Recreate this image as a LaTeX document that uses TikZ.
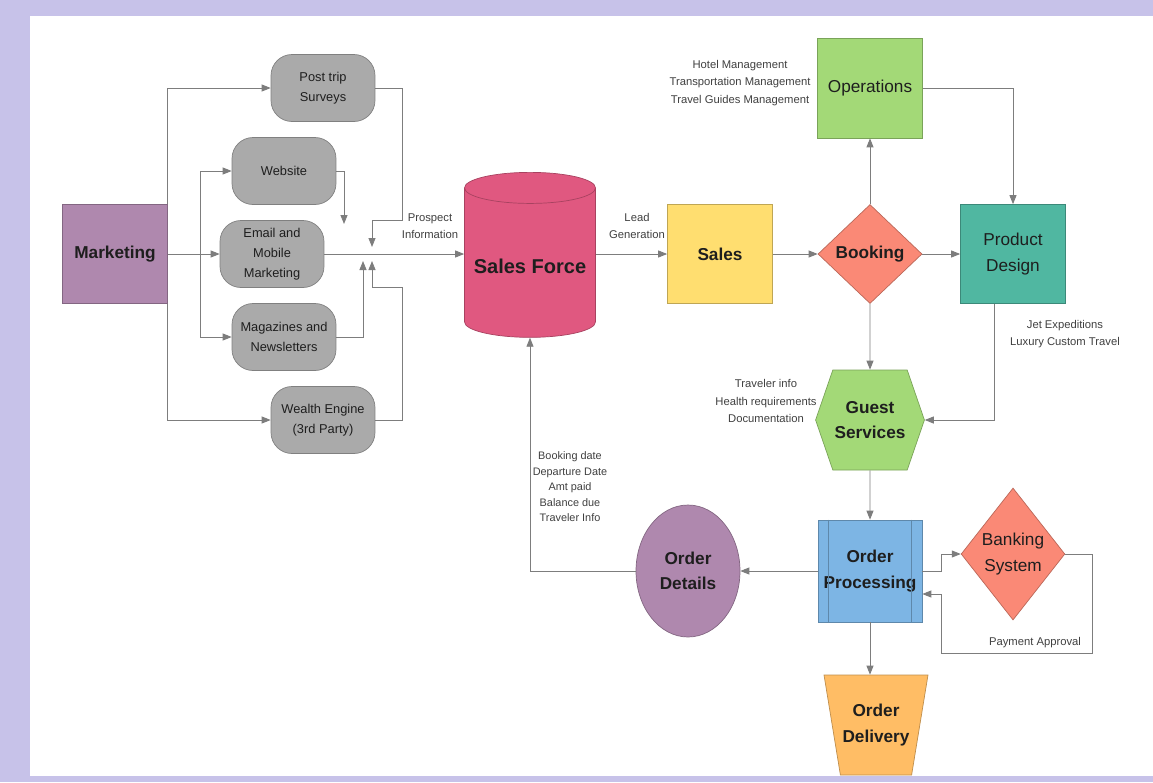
\documentclass[tikz,border=0pt]{standalone}
\usepackage{fontspec}
\setmainfont{Liberation Sans}
\usepackage{xcolor}
\usepackage{tikz}
\usetikzlibrary{positioning,shapes.geometric,shapes.misc,shapes.symbols,arrows.meta,calc}

\definecolor{framelav}{RGB}{199,194,233}
\definecolor{mktpurple}{RGB}{175,136,174}
\definecolor{boxgray}{RGB}{170,170,170}
\definecolor{sfpink}{RGB}{224,88,128}
\definecolor{salesyellow}{RGB}{255,222,112}
\definecolor{bookred}{RGB}{250,137,118}
\definecolor{opsgreen}{RGB}{163,217,119}
\definecolor{pdteal}{RGB}{80,183,161}
\definecolor{opblue}{RGB}{125,181,228}
\definecolor{delorange}{RGB}{255,189,101}
\definecolor{linegray}{RGB}{125,125,125}
\definecolor{txtdark}{RGB}{30,30,30}

\begin{document}
\begin{tikzpicture}[
    x=0.02cm, y=-0.02cm,
    font=\fontsize{9.8}{14.5}\selectfont,
    paint/.style={
        fill=#1,
        draw=#1!75!black,
        thin
    },
    proc/.style={
        minimum width=2.1cm,
        minimum height=1.98cm,
        inner sep=1pt,
        align=center,
        text=txtdark
    },
    bold/.style={
        font=\fontsize{9.8}{14.5}\selectfont\bfseries
    },
    pill/.style={
        paint=boxgray,
        rounded corners=0.42cm,
        minimum width=2.08cm,
        minimum height=1.34cm,
        inner sep=1pt,
        align=center,
        text=txtdark,
        font=\fontsize{7.3}{11.3}\selectfont
    },
    note/.style={
        align=center,
        inner sep=0pt,
        text=black!75,
        font=\fontsize{6.4}{9.8}\selectfont
    },
    arr/.style={
        -{Triangle[length=1.8mm,width=1.4mm]},
        draw=linegray,
        line width=0.5pt
    }
]

% frame
\fill[framelav] (0,0) rectangle (1153,782);
\fill[white] (30,16) rectangle (1153,776);

% marketing channels
\node[proc, paint=mktpurple, bold] (mkt) at (115,254) {Marketing};
\node[pill] (post) at (323,88) {Post trip\\Surveys};
\node[pill] (web) at (284,171) {Website};
\node[pill] (email) at (272,254) {Email and\\Mobile\\Marketing};
\node[pill] (mag) at (284,337) {Magazines and\\Newsletters};
\node[pill] (wealth) at (323,420) {Wealth Engine\\(3rd Party)};

\coordinate (split) at (200,254);
\coordinate (mergeA) at (372,247);
\coordinate (mergeB) at (372,261);
\coordinate (mergeC) at (363,261);
\coordinate (webend) at (344,224);

\draw[arr] (mkt) -- (email);
\draw[arr] (mkt.north east) |- (post);
\draw[arr] (mkt.south east) |- (wealth);
\draw[arr] (split) |- (web);
\draw[arr] (split) |- (mag);
\draw[arr] (post.east) -| (402,220) -| (mergeA);
\draw[arr] (wealth.east) -| (402,287) -| (mergeB);
\draw[arr] (mag.east) -| (mergeC);
\draw[arr] (web.east) -| (webend);

\node[note] (prospnote) at (430,226) {Prospect\\Information};

% main row
\node[cylinder, shape border rotate=90, aspect=0.25, paint=sfpink,
      minimum width=2.62cm, minimum height=3.3cm, text=txtdark,
      font=\fontsize{11.4}{14}\selectfont\bfseries] (sf) at (530,266) {Sales Force};
\node[proc, paint=salesyellow, bold] (sales) at (720,254) {Sales};
\node[diamond, paint=bookred, bold, inner sep=0pt, text=txtdark,
      minimum width=2.08cm, minimum height=1.98cm] (book) at (870,254) {Booking};
\node[proc, paint=opsgreen, minimum height=2cm] (ops) at (870,88) {Operations};
\node[proc, paint=pdteal] (pd) at (1013,254) {Product\\Design};

\node[note] (leadnote) at (637,226) {Lead\\Generation};
\node[note] (opsnote) at (740,83) {Hotel Management\\Transportation Management\\Travel Guides Management};
\node[note] (pdnote) at (1065,334) {Jet Expeditions\\Luxury Custom Travel};

\draw[arr] (email.east) -- (email.east -| sf.west);
\draw[arr] (sales.west -| sf.east) -- (sales.west);
\draw[arr] (sales) -- (book);
\draw[arr] (book) -- (ops);
\draw[arr] (book) -- (pd);
\draw[arr] (ops.east) -| (pd.north);

% order handling
\node[signal, signal to=west and east, signal pointer angle=142,
      paint=opsgreen, bold, text=txtdark, inner sep=1pt, align=center,
      minimum width=2.08cm, minimum height=2cm] (gs) at (870,420) {Guest\\Services};
\node[proc, paint=opblue, bold, minimum width=2.08cm, minimum height=2.04cm] (op) at (870,571) {Order\\Processing};
\draw[draw=opblue!75!black, thin] ([xshift=0.22cm]op.north west) -- ([xshift=0.22cm]op.south west);
\draw[draw=opblue!75!black, thin] ([xshift=-0.22cm]op.north east) -- ([xshift=-0.22cm]op.south east);
\node[ellipse, paint=mktpurple, bold, text=txtdark, inner sep=0pt, align=center,
      minimum width=2.08cm, minimum height=2.64cm] (od) at (688,571) {Order\\Details};
\node[diamond, paint=bookred, text=txtdark, inner sep=0pt, align=center,
      minimum width=2.06cm, minimum height=2.64cm] (bank) at (1013,554) {Banking\\System};
\node[trapezium, shape border rotate=180, trapezium angle=70, trapezium stretches body=true,
      paint=delorange, bold, text=txtdark, align=center, inner sep=1pt,
      minimum width=2.08cm, minimum height=2cm] (deliv) at (876,725) {Order\\Delivery};

\node[note] (gsnote) at (766,401) {Traveler info\\Health requirements\\Documentation};
\node[note, font=\fontsize{6.2}{8.8}\selectfont] (odnote) at (570,487) {Booking date\\Departure Date\\Amt paid\\Balance due\\Traveler Info};
\node[note] (paynote) at (1035,643) {Payment Approval};

\coordinate (payturn) at (941,653);

\draw[arr] (book) -- (gs);
\draw[arr] ([xshift=-0.38cm]pd.south) |- (gs.east);
\draw[arr] (gs) -- (op);
\draw[arr] (op) -- (od);
\draw[arr] (od.west) -| (sf.south);
\draw[arr] (op.south) -- (op.south |- deliv.north);
\draw[arr] (op.east) -- ++(19,0) |- (bank.west);
\draw[arr] (bank.east) -- ++(27,0) |- (payturn) |- ([yshift=-0.46cm]op.east);

\end{tikzpicture}
\end{document}
